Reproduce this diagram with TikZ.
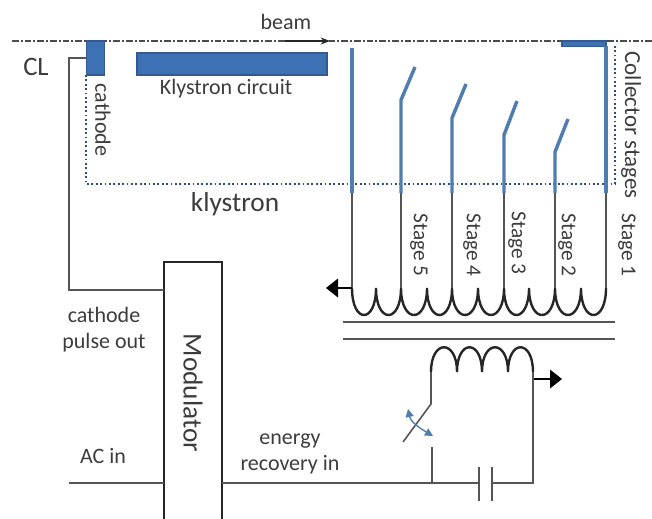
\documentclass[tikz,border=0pt]{standalone}
\usepackage{fontspec}
\setmainfont{Carlito}
\usetikzlibrary{arrows.meta}
\definecolor{klyblue}{RGB}{62,112,180}
\definecolor{stemblue}{RGB}{80,125,175}
\definecolor{wiregray}{RGB}{85,85,85}
\definecolor{labelgray}{RGB}{60,60,60}

\begin{document}
\begin{tikzpicture}[x = 0.75pt, y = -0.75pt]

\tikzstyle{bluebox}=[rectangle, draw=klyblue!80!black, fill=klyblue, line width=0.8pt, inner sep=0pt]
\tikzstyle{label}=[text=labelgray, inner sep=0pt, font=\fontsize{16.5}{19.5}\selectfont]
\tikzstyle{stagelabel}=[label, rotate=-90, font=\fontsize{16}{19}\selectfont]
\tikzstyle{wire}=[wiregray, line width=1.2pt]
\tikzstyle{stem}=[stemblue, line width=2.6pt]
\tikzstyle{coil}=[black!85, line width=1.8pt]
\tikzstyle{tip}=[-{Triangle[length=9pt,width=14pt]}, line width=1.1pt, black]

\useasboundingbox (0,0) rectangle (652,518);
\clip (0,0) rectangle (652,518);

% centre line and klystron outline
\coordinate (CLleft) at (12,41);
\coordinate (CLright) at (652,41);
\coordinate (BeamStart) at (285,41);
\coordinate (BeamEnd) at (330,41);
\draw [black!70, line width=1.1pt, dash pattern=on 5pt off 1.5pt on 1.5pt off 1.5pt] (CLleft) -- (CLright);
\draw [-{Stealth[length=7pt]}, black!85, line width=1.4pt] (BeamStart) -- (BeamEnd);
\draw [klyblue!70!black, line width=1.3pt, dotted] (86,75) -- (86,184) -- (615,184) -- (615,46);

\node (Cathode) [bluebox, minimum width=14pt, minimum height=25.5pt] at (95.5,58) {};
\node (Circuit) [bluebox, minimum width=142.5pt, minimum height=16.5pt] at (232,64) {};
\node (Collector) [bluebox, minimum width=33pt, minimum height=3.8pt] at (584,43.5) {};

\node (Modulator) [rectangle, draw=black!85, line width=1.8pt, rotate=-90, minimum width=196.5pt, minimum height=43.5pt, inner sep=0pt, font=\fontsize{20.5}{24}\selectfont, text=labelgray] at (193,393) {Modulator};

% text
\node (BeamText) [label] at (286,22) {beam};
\node (CLText) [label, font=\fontsize{20}{24}\selectfont] at (36,67) {CL};
\node (CathodeText) [label, rotate=-90] at (103,120) {cathode};
\node (CircuitText) [label] at (226,89) {Klystron circuit};
\node (KlystronText) [label, font=\fontsize{20.5}{24}\selectfont] at (235,204) {klystron};
\node (CollectorText) [label, rotate=-90, font=\fontsize{17.2}{20}\selectfont] at (631,125) {Collector stages};
\node (StageE) [stagelabel] at (419,245) {Stage 5};
\node (StageD) [stagelabel] at (472,245) {Stage 4};
\node (StageC) [stagelabel] at (517,243) {Stage 3};
\node (StageB) [stagelabel] at (567,245) {Stage 2};
\node (StageA) [stagelabel] at (627,245) {Stage 1};
\node (PulseText) [label, align=center] at (104,330) {cathode\\pulse out};
\node (ACText) [label] at (103,456) {AC in};
\node (EnergyText) [label, align=center] at (290,454) {energy\\recovery in};

% collector stages
\coordinate (StemA) at (606,193);
\coordinate (StemB) at (555,193);
\coordinate (StemC) at (504,193);
\coordinate (StemD) at (452,193);
\coordinate (StemE) at (401,193);
\coordinate (StemF) at (352,193);
\coordinate (TapA) at (606,288);
\coordinate (TapB) at (555,288);
\coordinate (TapC) at (504,288);
\coordinate (TapD) at (452,288);
\coordinate (TapE) at (401,288);
\coordinate (TapF) at (352,288);

\draw [stem] (StemF) -- (352,48);
\draw [stem] (StemE) -- (401,100) -- (415,67);
\draw [stem] (StemD) -- (452,118) -- (466,84);
\draw [stem] (StemC) -- (504,135) -- (517,101);
\draw [stem] (StemB) -- (555,152) -- (568,119);
\draw [stem] (StemA) -- (606,46);

\draw [wire] (StemA) -- (TapA);
\draw [wire] (StemB) -- (TapB);
\draw [wire] (StemC) -- (TapC);
\draw [wire] (StemD) -- (TapD);
\draw [wire] (StemE) -- (TapE);
\draw [wire] (StemF) -- (TapF);

% transformer
\draw [coil] (TapF) .. controls +(0,36) and +(0,36) .. (376,288)
   .. controls +(0,36) and +(0,36) .. (TapE)
   .. controls +(0,36) and +(0,36) .. (427,288)
   .. controls +(0,36) and +(0,36) .. (TapD)
   .. controls +(0,36) and +(0,36) .. (478,288)
   .. controls +(0,36) and +(0,36) .. (TapC)
   .. controls +(0,36) and +(0,36) .. (529,288)
   .. controls +(0,36) and +(0,36) .. (TapB)
   .. controls +(0,36) and +(0,36) .. (581,288)
   .. controls +(0,36) and +(0,36) .. (TapA);
\draw [wire, line width=1.4pt] (343,322) -- (615,322);
\draw [wire, line width=1.4pt] (343,339) -- (615,339);
\coordinate (CoilLeft) at (431,372);
\coordinate (CoilRight) at (533,372);
\draw [coil] (CoilLeft) .. controls +(0,-33) and +(0,-33) .. (457,372)
   .. controls +(0,-33) and +(0,-33) .. (482,372)
   .. controls +(0,-33) and +(0,-33) .. (508,372)
   .. controls +(0,-33) and +(0,-33) .. (CoilRight);

% output arrows
\coordinate (OutLeft) at (326,288);
\coordinate (OutRight) at (562,379);
\coordinate (OutTap) at (533,379);
\draw [tip] (TapF) -- (OutLeft);
\draw [tip] (OutTap) -- (OutRight);

% modulator wiring
\coordinate (PulseA) at (69,58);
\coordinate (PulseB) at (69,290);
\coordinate (ACstart) at (69,483);
\coordinate (Junction) at (432,483);
\coordinate (CapA) at (479,483);
\coordinate (CapB) at (492,483);
\coordinate (Corner) at (533,483);
\coordinate (SwitchTop) at (431,404);
\coordinate (SwitchEnd) at (403,442);
\coordinate (Contact) at (432,447);

\draw [wire] (Cathode.west) -- (PulseA) -- (PulseB) -- (164,290);
\draw [wire] (ACstart) -- (164,483);
\draw [wire] (222,483) -- (Junction) -- (CapA);
\draw [wire] (CapB) -- (Corner) -- (CoilRight);
\draw [wire] (CoilLeft) -- (SwitchTop) -- (SwitchEnd);
\draw [wire] (Contact) -- (Junction);
\draw [wire, line width=1.8pt] (479,467) -- (479,501);
\draw [wire, line width=1.8pt] (492,467) -- (492,501);

% switch arrows
\draw [{Triangle[length=6pt,width=6pt]}-{Triangle[length=6pt,width=6pt]}, stemblue, line width=1pt] (408,409) .. controls +(3,14) and +(-10,-6) .. (433,436);

\end{tikzpicture}
\end{document}
